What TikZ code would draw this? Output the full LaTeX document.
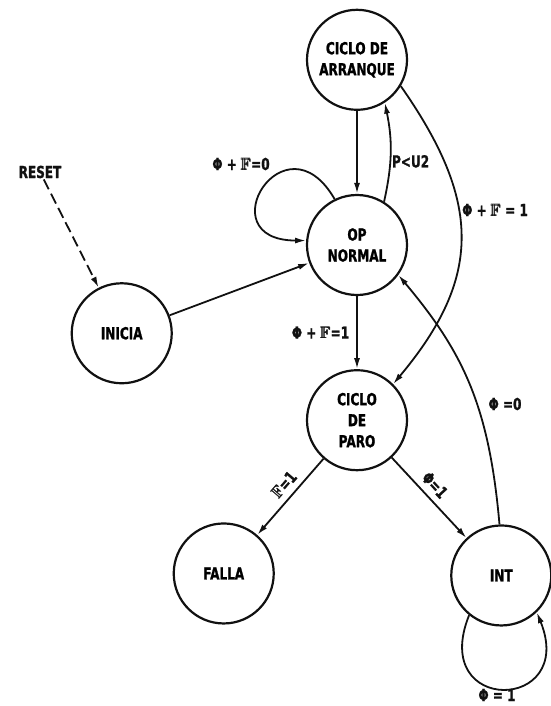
\documentclass[tikz,border=0pt]{standalone}
\usepackage{amsmath,amssymb}
\usepackage{fontspec}
\setmainfont{DejaVu Sans}[FakeStretch=0.73,BoldFeatures={FakeBold=1.2}]
\usetikzlibrary{arrows.meta,positioning}
\definecolor{ink}{HTML}{111111}
\newcommand{\fbb}{$\pmb{\mathbb{F}}$}

\begin{document}
\begin{tikzpicture}[x=1pt,y=1pt,
  estado/.style={draw=ink,circle,line width=2.2pt,minimum size=100pt,inner sep=0pt,align=center,font=\fontsize{16.5}{21}\selectfont\bfseries},
  etiq/.style={font=\fontsize{16.5}{19}\selectfont\bfseries,inner sep=1pt,text=ink},
  flecha/.style={draw=ink,line width=1.8pt,-{Latex[length=11pt,width=6pt]}}]
\useasboundingbox (0,0) rectangle (550,-706);
\node[estado] (op) at (357,-245) {OP\\NORMAL};
\node[estado,above=83pt of op] (arr) {CICLO DE\\ARRANQUE};
\node[estado,below=73pt of op] (paro) {CICLO\\DE\\PARO};
\node[estado,below left=16pt and 163pt of op] (ini) {INICIA};
\node[estado,below left=81pt and 61pt of paro] (falla) {FALLA};
\node[estado,below right=83pt and 72pt of paro] (int) {INT};
\node[etiq] (reset) at (40,-172) {RESET};
% entradas
\draw[flecha,dash pattern=on 11pt off 5pt] (reset) -- (ini);
\draw[flecha] (ini) -- (op);
% arranque
\draw[flecha] (arr) -- (op);
\draw[flecha] (op.58) to[bend right=12] node[etiq,pos=0.4,right] {P<U2} (arr.303);
\draw[flecha] (op.116) .. controls +(120:100) and +(180:100) .. (op.175);
\node[etiq] (lazo) at (241,-164) {Φ + \fbb=0};
\draw[flecha] (arr.329) .. controls +(-55:140) and +(50:140) .. (paro.45);
\node[etiq,anchor=west] (falla1) at (461,-210) {Φ + \fbb\ = 1};
% paro
\draw[flecha] (op) -- node[etiq,left=6pt] {Φ + \fbb=1} (paro);
\draw[flecha] (paro) -- node[etiq,sloped,above=5pt,pos=0.45] {\fbb=1} (falla);
\draw[flecha] (paro) -- node[etiq,sloped,above=5pt,pos=0.45] {Φ=1} (int);
% interrupcion
\draw[flecha] (int.92) .. controls +(95:120) and +(-50:100) .. (op.324);
\node[etiq] (cero) at (505,-404) {Φ =0};
\draw[flecha] (int.231) .. controls +(-112:108) and +(-68:108) .. (int.-46);
\node[etiq] (uno) at (497,-695) {Φ = 1};
\end{tikzpicture}
\end{document}
